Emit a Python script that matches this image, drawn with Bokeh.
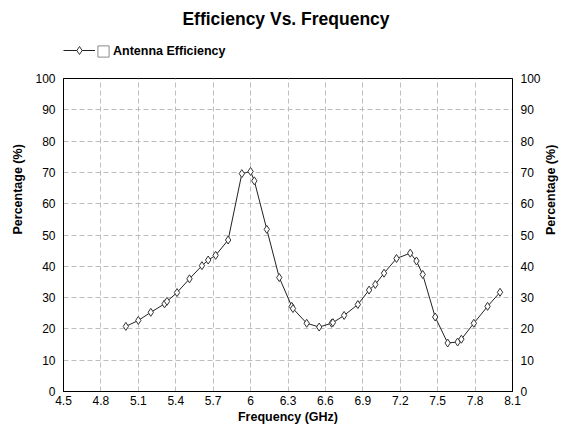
import math
from bokeh.plotting import figure
from bokeh.layouts import column
from bokeh.models import (Legend, LegendItem, LinearAxis, FixedTicker, Label,
                          Title, CustomJSTickFormatter, ColumnDataSource, Range1d)
from bokeh.embed import file_html
from bokeh.resources import INLINE

# ---- data ----
freq_ghz = [5.0, 5.1, 5.2, 5.31, 5.33, 5.41, 5.51, 5.61, 5.66, 5.72, 5.82,
            5.93, 6.0, 6.03, 6.13, 6.23, 6.33, 6.34, 6.45, 6.55, 6.65, 6.66,
            6.75, 6.86, 6.95, 7.0, 7.07, 7.17, 7.28, 7.33, 7.38, 7.48, 7.58,
            7.66, 7.69, 7.79, 7.9, 8.0]
efficiency = [20.8, 22.7, 25.3, 28.0, 28.8, 31.6, 36.0, 40.2, 42.0, 43.5, 48.4,
              69.6, 70.3, 67.3, 51.8, 36.4, 27.2, 26.5, 21.8, 20.6, 21.8, 22.0,
              24.3, 27.8, 32.4, 34.2, 37.8, 42.5, 44.2, 41.7, 37.4, 23.8, 15.5,
              15.8, 16.7, 21.8, 27.2, 31.7]
x_ticks = [4.5, 4.8, 5.1, 5.4, 5.7, 6.0, 6.3, 6.6, 6.9, 7.2, 7.5, 7.8, 8.1]
y_ticks = [0, 10, 20, 30, 40, 50, 60, 70, 80, 90, 100]
series_name = "Antenna Efficiency"
title_text = "Efficiency Vs. Frequency"
x_label = "Frequency (GHz)"
y_label = "Percentage (%)"

FONT = "Liberation Sans"
W = 567
HEAD_H = 66
MAIN_H = 434 - HEAD_H
LEFT, RIGHT = 63, 54          # frame borders (header frame is aligned to them)

LINE_COLOR = "#222222"
MARK_LINE = "#333333"

src = ColumnDataSource(dict(x=freq_ghz, y=efficiency))
box_src = ColumnDataSource(dict(l=[freq_ghz[0]], r=[freq_ghz[1]],
                                b=[efficiency[0]], t=[efficiency[1]]))

# ---------------- header: title + legend ----------------
head = figure(width=W, height=HEAD_H, output_backend="svg", toolbar_location=None,
              x_range=Range1d(LEFT, W - RIGHT), y_range=Range1d(0, HEAD_H),
              x_axis_location=None, y_axis_location=None,
              min_border_left=LEFT, min_border_right=RIGHT, min_border_top=0,
              min_border_bottom=0)
head.outline_line_color = None
head.background_fill_color = "white"
head.border_fill_color = "white"
head.grid.visible = False

head.add_layout(Label(x=286, y=HEAD_H - 18, text=title_text, text_align="center",
                      text_baseline="middle", text_font=FONT,
                      text_font_size="17.5px", text_font_style="bold",
                      text_color="black"))

# legend-only renderers (hidden in the header; they only feed the legend)
h_line = head.line("x", "y", source=src, line_color=LINE_COLOR, line_width=1,
                   visible=False)
h_pts = head.scatter("x", "y", source=src, marker="diamond", size=8,
                     fill_color="white", line_color=MARK_LINE, line_width=1,
                     visible=False)
h_box = head.quad(left="l", right="r", bottom="b", top="t", source=box_src,
                  fill_color="white", line_color="#8a8a8a", line_width=1,
                  visible=False)

leg_a = Legend(items=[LegendItem(label=" ", renderers=[h_line, h_pts])],
               location=(0, 6), orientation="horizontal", margin=0,
               padding=0, glyph_width=32, glyph_height=20, label_standoff=0,
               border_line_alpha=0, background_fill_alpha=0,
               label_text_font_size="2px", label_width=0)
leg_b = Legend(items=[LegendItem(label=series_name, renderers=[h_box])],
               location=(33, 8), orientation="horizontal", margin=0,
               padding=0, glyph_width=14, glyph_height=14, label_standoff=3,
               border_line_alpha=0, background_fill_alpha=0,
               label_text_font=FONT, label_text_font_size="12.5px",
               label_text_font_style="bold", label_text_color="black")
head.add_layout(leg_a)
head.add_layout(leg_b)

# ---------------- main chart ----------------
p = figure(width=W, height=MAIN_H, output_backend="svg", toolbar_location=None,
           x_range=Range1d(4.5, 8.1), y_range=Range1d(0, 100),
           min_border_left=LEFT, min_border_right=RIGHT, min_border_top=12,
           min_border_bottom=43)
p.background_fill_color = "white"
p.border_fill_color = "white"
p.outline_line_color = "black"
p.outline_line_width = 1

p.line("x", "y", source=src, line_color=LINE_COLOR, line_width=1)
p.scatter("x", "y", source=src, marker="diamond", size=8,
          fill_color="white", line_color=MARK_LINE, line_width=1)

fmt = CustomJSTickFormatter(code="return String(Math.round(tick*10)/10);")
p.xaxis.ticker = FixedTicker(ticks=x_ticks)
p.xaxis.formatter = fmt
p.yaxis.ticker = FixedTicker(ticks=y_ticks)

right_axis = LinearAxis(ticker=FixedTicker(ticks=y_ticks))
p.add_layout(right_axis, "right")

for ax in [p.xaxis[0], p.yaxis[0], right_axis]:
    ax.major_tick_line_color = None
    ax.minor_tick_line_color = None
    ax.major_tick_out = 0
    ax.major_tick_in = 0
    ax.axis_line_color = "black"
    ax.axis_line_width = 1
    ax.major_label_text_font = FONT
    ax.major_label_text_font_size = "12px"
    ax.major_label_text_color = "black"
    ax.axis_label_text_font = FONT
    ax.axis_label_text_font_size = "12.5px"
    ax.axis_label_text_font_style = "bold"
    ax.axis_label_text_color = "black"

p.xaxis.axis_label = x_label
p.xaxis.major_label_standoff = 4
p.xaxis.axis_label_standoff = 2
p.yaxis[0].major_label_standoff = 8
right_axis.axis_label = y_label
right_axis.major_label_standoff = 8
right_axis.axis_label_standoff = 7
right_axis.axis_label_orientation = math.pi / 2

# left axis title, raised like the reference (starts above the frame bottom)
p.add_layout(Title(text=y_label, align="left", offset=157, standoff=16,
                   text_font=FONT, text_font_size="12.5px",
                   text_font_style="bold", text_color="black"), "left")

p.xgrid.ticker = FixedTicker(ticks=x_ticks)
p.ygrid.ticker = FixedTicker(ticks=y_ticks)
for g in [p.xgrid[0], p.ygrid[0]]:
    g.grid_line_color = "#bdbdbd"
    g.grid_line_dash = "5 3"
    g.grid_line_width = 1

layout = column(head, p, spacing=0)
open("out.html", "w").write(file_html(layout, INLINE))
